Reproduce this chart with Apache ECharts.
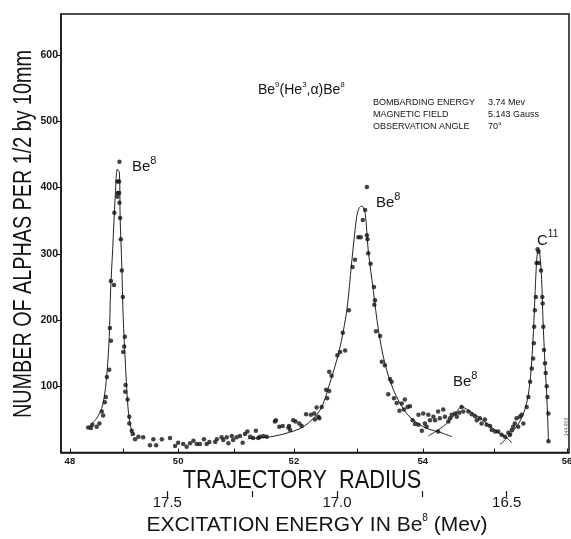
<!DOCTYPE html>
<html>
<head>
<meta charset="utf-8">
<script src="https://cdn.jsdelivr.net/npm/echarts@6.0.0/dist/echarts.min.js"></script>
<style>
html,body{margin:0;padding:0;background:#fff;}
#chart{width:571px;height:539px;}
</style>
</head>
<body>
<div id="chart"></div>
<script>
// ---------- DATA ----------
// x values are excitation energy in Be8 (MeV), y values are counts
const energyRange = [16.3164, 17.8132];
const countRange = [0, 662];
const countTicks = [100, 200, 300, 400, 500, 600];
const energyTicks = [17.5, 17.25, 17.0, 16.75, 16.5];
const energyLabels = [17.5, 17.0, 16.5];
// trajectory radius scale (non-linear in energy)
const radiusTicks = [48, 49, 50, 51, 52, 53, 54, 55, 56];
const radiusTickEnergy = [17.787, 17.631, 17.468, 17.303, 17.127, 16.941, 16.747, 16.537, 16.322];
const radiusLabels = [48, 50, 52, 54, 56];

const peak1Points = [[17.641,439],[17.647,409],[17.642,409],[17.647,392],[17.642,392],[17.647,386],[17.641,377],[17.656,362],[17.639,354],[17.637,322],[17.634,275],[17.666,259],[17.657,253],[17.631,235],[17.669,188],[17.666,169],[17.625,175],[17.627,160],[17.630,152],[17.671,125],[17.678,114],[17.623,102],[17.681,84],[17.684,76],[17.624,92],[17.617,80],[17.693,62],[17.689,56],[17.612,54],[17.612,44],[17.700,44],[17.708,39],[17.721,42],[17.733,38],[17.725,37],[17.605,33],[17.602,28],[17.595,20],[17.585,24],[17.571,23]];
const baselinePoints = [[17.551,11],[17.533,11],[17.541,20],[17.516,20],[17.492,22],[17.477,10],[17.468,15],[17.453,13],[17.443,9],[17.433,14],[17.423,18],[17.413,13],[17.404,13],[17.392,20],[17.384,13],[17.376,16],[17.359,16],[17.354,20],[17.340,23],[17.335,19],[17.325,23],[17.320,14],[17.310,25],[17.306,19],[17.296,23],[17.286,25],[17.278,15],[17.271,28],[17.264,32],[17.256,24],[17.247,22],[17.239,33],[17.232,22],[17.227,24],[17.217,25],[17.207,24]];
const peak2Points = [[17.183,47],[17.180,49],[17.170,39],[17.160,40],[17.143,38],[17.141,40],[17.138,34],[17.129,49],[17.122,47],[17.111,44],[17.104,40],[17.091,58],[17.077,57],[17.067,59],[17.065,50],[17.060,68],[17.055,54],[17.052,52],[17.045,69],[17.032,95],[17.023,93],[17.029,82],[17.023,122],[17.016,116],[16.999,147],[16.991,152],[16.976,154],[16.983,181],[16.965,215],[16.954,280],[16.947,291],[16.937,325],[16.930,325],[16.924,351],[16.917,366],[16.912,401],[16.912,328],[16.910,322],[16.908,301],[16.901,285],[16.891,250],[16.888,230],[16.890,223],[16.885,183],[16.873,176],[16.868,137],[16.859,132],[16.844,111],[16.839,107],[16.849,88],[16.832,82],[16.824,75],[16.816,63],[16.809,74],[16.800,80],[16.792,69],[16.785,70],[16.803,65],[16.777,49],[16.770,43],[16.760,42],[16.750,33]];
const peak3Points = [[16.760,57],[16.746,59],[16.741,44],[16.736,39],[16.731,57],[16.726,49],[16.716,54],[16.711,49],[16.702,62],[16.702,32],[16.697,52],[16.687,65],[16.682,54],[16.672,47],[16.667,52],[16.662,57],[16.652,59],[16.647,54],[16.640,60],[16.633,69],[16.628,62],[16.613,62],[16.603,58],[16.593,55],[16.588,49],[16.579,52],[16.574,44],[16.564,50],[16.559,42],[16.549,40],[16.544,34],[16.534,32],[16.525,32],[16.515,27],[16.505,24],[16.495,30],[16.490,27],[16.485,34],[16.481,39],[16.476,44],[16.471,52],[16.466,39],[16.461,54],[16.456,57],[16.451,44]];
const c11Points = [[16.441,69],[16.436,84],[16.431,107],[16.426,127],[16.422,142],[16.420,165],[16.419,190],[16.417,215],[16.414,235],[16.412,286],[16.405,286],[16.409,307],[16.406,303],[16.399,275],[16.395,235],[16.394,225],[16.392,190],[16.390,155],[16.387,135],[16.385,120],[16.382,100],[16.380,84],[16.377,59],[16.377,17]];

const fitBe8Ground = [[17.731,39],[17.708,52],[17.693,67],[17.684,90],[17.677,125],[17.671,175],[17.667,245],[17.661,306],[17.654,381],[17.647,428],[17.641,422],[17.639,356],[17.634,281],[17.630,205],[17.623,130],[17.618,84],[17.613,54],[17.605,34],[17.595,27]];
const fitBe8Mid = [[17.262,21],[17.207,23],[17.158,28],[17.099,39],[17.050,64],[17.021,105],[16.993,155],[16.971,215],[16.957,286],[16.942,356],[16.934,370],[16.926,372],[16.917,361],[16.908,306],[16.893,245],[16.878,185],[16.859,135],[16.834,95],[16.795,59],[16.746,39],[16.687,29],[16.661,24]];
const fitBe8High = [[16.731,25],[16.697,36],[16.677,44],[16.652,58],[16.633,69],[16.613,64],[16.579,52],[16.529,32],[16.500,22],[16.485,15]];
const fitC11 = [[16.520,12],[16.490,27],[16.467,42],[16.449,61],[16.437,85],[16.428,125],[16.421,185],[16.416,245],[16.412,288],[16.409,303],[16.406,305],[16.402,297],[16.397,261],[16.393,200],[16.387,132],[16.382,87],[16.379,49],[16.377,17]];

// ---------- CHART ----------
const INK = '#141414';
const FONT = '"Liberation Sans", Arial, sans-serif';
const radiusLabelEnergy = radiusLabels.map(r => radiusTickEnergy[radiusTicks.indexOf(r)]);

const mctx = document.createElement('canvas').getContext('2d');
function tw(str, font) { mctx.font = font; return mctx.measureText(str).width; }
// text with superscripts: parts = [[text, isSup], ...]
function supText(parts, x, y, size, supSize, rise, align, weight) {
  weight = weight || 'normal';
  const fb = weight + ' ' + size + 'px ' + FONT;
  const fs = weight + ' ' + supSize + 'px ' + FONT;
  let total = 0;
  parts.forEach(p => total += tw(p[0], p[1] ? fs : fb));
  let cx = align === 'center' ? x - total / 2 : x;
  const els = [];
  parts.forEach(p => {
    const f = p[1] ? fs : fb;
    els.push({type: 'text', x: cx, y: p[1] ? y - rise : y, silent: true,
      style: {text: p[0], font: f, fill: INK, textAlign: 'left', textVerticalAlign: 'middle'}});
    cx += tw(p[0], f);
  });
  return els;
}

const chart = echarts.init(document.getElementById('chart'), null, {renderer: 'canvas'});

const scatterStyle = {symbol: 'circle', symbolSize: 4.5, itemStyle: {color: INK}, z: 3};
const lineStyle = {showSymbol: false, smooth: 0.3, lineStyle: {color: '#222', width: 1}, z: 2};

let graphics = [];
graphics.push({type: 'text', x: 24, y: 234, rotation: Math.PI / 2, scaleX: 0.76, silent: true,
  style: {text: 'NUMBER OF ALPHAS PER 1/2 by 10mm', font: '26px ' + FONT, fill: INK, textAlign: 'center', textVerticalAlign: 'middle'}});
graphics.push({type: 'text', x: 302, y: 481, scaleX: 0.87, silent: true,
  style: {text: 'TRAJECTORY  RADIUS', font: '25px ' + FONT, fill: INK, textAlign: 'center', textVerticalAlign: 'middle'}});
graphics = graphics.concat(supText([['EXCITATION ENERGY IN Be', false], ['8', true], [' (Mev)', false]], 317, 525, 21, 10, 7, 'center'));
graphics = graphics.concat(supText([['Be', false], ['9', true], ['(He', false], ['3', true], [',\u03b1)Be', false], ['8', true]], 258, 90, 14, 8, 5, 'left'));
graphics = graphics.concat(supText([['Be', false], ['8', true]], 132, 167, 15, 11, 6, 'left'));
graphics = graphics.concat(supText([['Be', false], ['8', true]], 376, 203, 15, 11, 6, 'left'));
graphics = graphics.concat(supText([['Be', false], ['8', true]], 453, 382, 15, 11, 6, 'left'));
graphics = graphics.concat(supText([['C', false], ['11', true]], 537, 241, 15, 10, 7, 'left'));
const info = [['BOMBARDING ENERGY', '3.74 Mev'], ['MAGNETIC FIELD', '5.143 Gauss'], ['OBSERVATION ANGLE', '70\u00b0']];
info.forEach((row, i) => {
  graphics.push({type: 'text', x: 373, y: 103 + i * 12, silent: true,
    style: {text: row[0], font: '9px ' + FONT, fill: INK, textAlign: 'left', textVerticalAlign: 'middle'}});
  graphics.push({type: 'text', x: 488, y: 103 + i * 12, silent: true,
    style: {text: row[1], font: '9px ' + FONT, fill: INK, textAlign: 'left', textVerticalAlign: 'middle'}});
});
graphics.push({type: 'text', x: 567, y: 427, rotation: Math.PI / 2, silent: true,
  style: {text: '144-909', font: '5px ' + FONT, fill: '#666', textAlign: 'center', textVerticalAlign: 'middle'}});

const option = {
  animation: false,
  backgroundColor: '#ffffff',
  grid: {left: 61, right: 2, top: 14, bottom: 86.4, show: true, borderColor: INK, borderWidth: 1.5,
    containLabel: false, outerBoundsMode: 'none'},
  xAxis: [
    {type: 'value', min: energyRange[0], max: energyRange[1], inverse: true, position: 'bottom',
      axisLine: {show: true, onZero: false, lineStyle: {color: INK, width: 1.5}},
      axisTick: {show: true, inside: true, length: 4, customValues: radiusTickEnergy, lineStyle: {color: INK, width: 1}},
      axisLabel: {show: true, customValues: radiusLabelEnergy, margin: 4, fontSize: 9.5, fontWeight: 'bold', color: INK, fontFamily: FONT,
        formatter: function (v) {
          let best = 0, d = 1e9;
          radiusLabelEnergy.forEach((e, i) => { if (Math.abs(e - v) < d) { d = Math.abs(e - v); best = i; } });
          return String(radiusLabels[best]);
        }},
      splitLine: {show: false}},
    {type: 'value', min: energyRange[0], max: energyRange[1], inverse: true, position: 'bottom', offset: 38.5,
      axisLine: {show: false, onZero: false},
      axisTick: {show: true, inside: false, length: 6, customValues: energyTicks, lineStyle: {color: INK, width: 1.2}},
      axisLabel: {show: true, customValues: energyLabels, margin: 4, fontSize: 15, color: INK, fontFamily: FONT,
        formatter: v => v.toFixed(1)},
      splitLine: {show: false}}
  ],
  yAxis: {type: 'value', min: countRange[0], max: countRange[1],
    axisLine: {show: true, onZero: false, lineStyle: {color: INK, width: 1.5}},
    axisTick: {show: true, inside: false, length: 4, customValues: countTicks, lineStyle: {color: INK}},
    axisLabel: {show: true, customValues: countTicks, margin: 3, fontSize: 10.5, fontWeight: 'bold', color: INK, fontFamily: FONT},
    splitLine: {show: false}},
  series: [
    Object.assign({type: 'line', data: fitBe8Ground}, lineStyle),
    Object.assign({type: 'line', data: fitBe8Mid}, lineStyle),
    Object.assign({type: 'line', data: fitBe8High}, lineStyle),
    Object.assign({type: 'line', data: fitC11}, lineStyle),
    Object.assign({type: 'scatter', data: peak1Points}, scatterStyle),
    Object.assign({type: 'scatter', data: baselinePoints}, scatterStyle),
    Object.assign({type: 'scatter', data: peak2Points}, scatterStyle),
    Object.assign({type: 'scatter', data: peak3Points}, scatterStyle),
    Object.assign({type: 'scatter', data: c11Points}, scatterStyle)
  ],
  graphic: graphics
};
chart.setOption(option);
</script>
</body>
</html>
